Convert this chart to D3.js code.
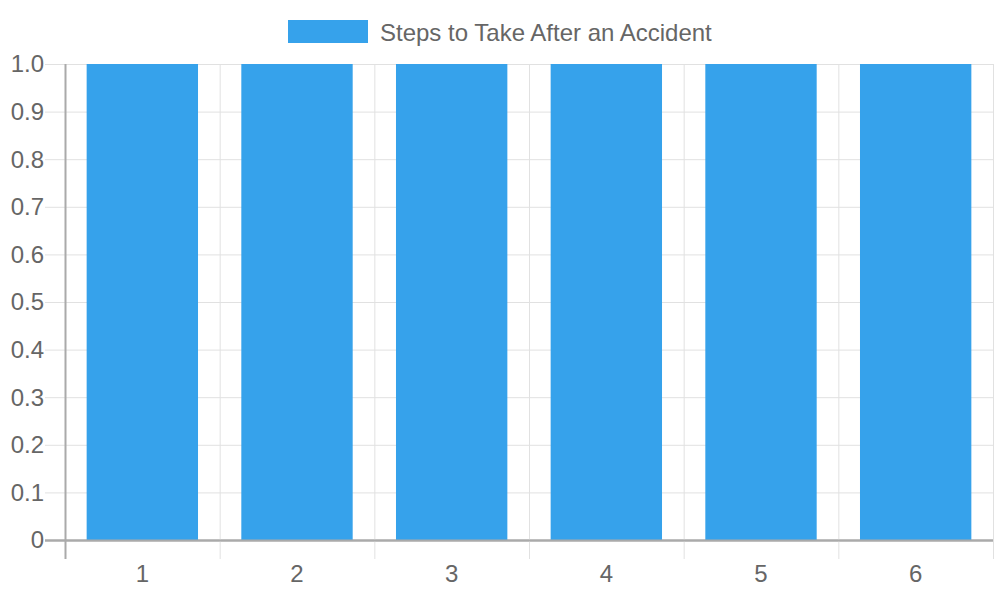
<!DOCTYPE html>
<html>
<head>
<meta charset="utf-8">
<script src="https://cdn.jsdelivr.net/npm/d3@7"></script>
<style>
  body { margin: 0; background: #fff; }
  text { font-family: "Liberation Sans", Arial, sans-serif; fill: #666; }
</style>
</head>
<body>
<svg id="chart" width="1000" height="600"></svg>
<script>
// Chart data
let categories = ['1', '2', '3', '4', '5', '6'];
let values = [1, 1, 1, 1, 1, 1];
let yTicks = [0, 0.1, 0.2, 0.3, 0.4, 0.5, 0.6, 0.7, 0.8, 0.9, 1.0];
let seriesName = 'Steps to Take After an Accident';

let margin = { top: 64, right: 7, bottom: 60, left: 65 };
let width = 1000 - margin.left - margin.right;
let height = 600 - margin.top - margin.bottom;

let svg = d3.select('#chart');
let g = svg.append('g').attr('transform', `translate(${margin.left},${margin.top})`);

let x = d3.scaleBand().domain(categories).range([0, width]);
let y = d3.scaleLinear().domain([0, 1]).range([height, 0]);

// Grid lines (horizontal)
g.selectAll('.hgrid')
    .data(yTicks)
    .enter()
    .append('line')
    .attr('x1', -20)
    .attr('x2', width)
    .attr('y1', (d) => y(d) + 0.5)
    .attr('y2', (d) => y(d) + 0.5)
    .attr('stroke', (d) => d === 0 ? '#aaa' : '#e1e1e1')
    .attr('stroke-width', (d) => d === 0 ? 2 : 1);

// Grid lines (vertical, at category boundaries)
let bounds = categories.map((c) => x(c)).concat([width]);
g.selectAll('.vgrid')
    .data(bounds)
    .enter()
    .append('line')
    .attr('x1', (d) => d + 0.5)
    .attr('x2', (d) => d + 0.5)
    .attr('y1', 0)
    .attr('y2', height + 19)
    .attr('stroke', (d, i) => i === 0 ? '#aaa' : '#e1e1e1')
    .attr('stroke-width', (d, i) => i === 0 ? 2 : 1);

// Bars
let barW = x.bandwidth() * 0.72;
g.selectAll('rect.bar')
    .data(values)
    .enter()
    .append('rect')
    .attr('class', 'bar')
    .attr('x', (d, i) => x(categories[i]) + (x.bandwidth() - barW) / 2)
    .attr('y', (d) => y(d))
    .attr('width', barW)
    .attr('height', (d) => y(0) - y(d))
    .attr('fill', '#36a2eb');

// Redraw baseline over bars
g.append('line')
    .attr('x1', -20).attr('x2', width)
    .attr('y1', y(0) + 0.5).attr('y2', y(0) + 0.5)
    .attr('stroke', '#aaa').attr('stroke-width', 2);

// Y labels
g.selectAll('.ylab')
    .data(yTicks)
    .enter()
    .append('text')
    .attr('x', -21)
    .attr('y', (d) => y(d))
    .attr('dy', '0.35em')
    .attr('text-anchor', 'end')
    .style('font-size', '24px')
    .text((d) => d === 0 ? '0' : d.toFixed(1));

// X labels
g.selectAll('.xlab')
    .data(categories)
    .enter()
    .append('text')
    .attr('x', (d) => x(d) + x.bandwidth() / 2)
    .attr('y', height + 42)
    .attr('text-anchor', 'middle')
    .style('font-size', '24px')
    .text((d) => d);

// Legend
let legend = svg.append('g');
legend.append('rect')
    .attr('x', 288).attr('y', 20)
    .attr('width', 80).attr('height', 23)
    .attr('fill', '#36a2eb');
legend.append('text')
    .attr('x', 380).attr('y', 33)
    .attr('dy', '0.35em')
    .style('font-size', '24px')
    .text(seriesName);
</script>
</body>
</html>
